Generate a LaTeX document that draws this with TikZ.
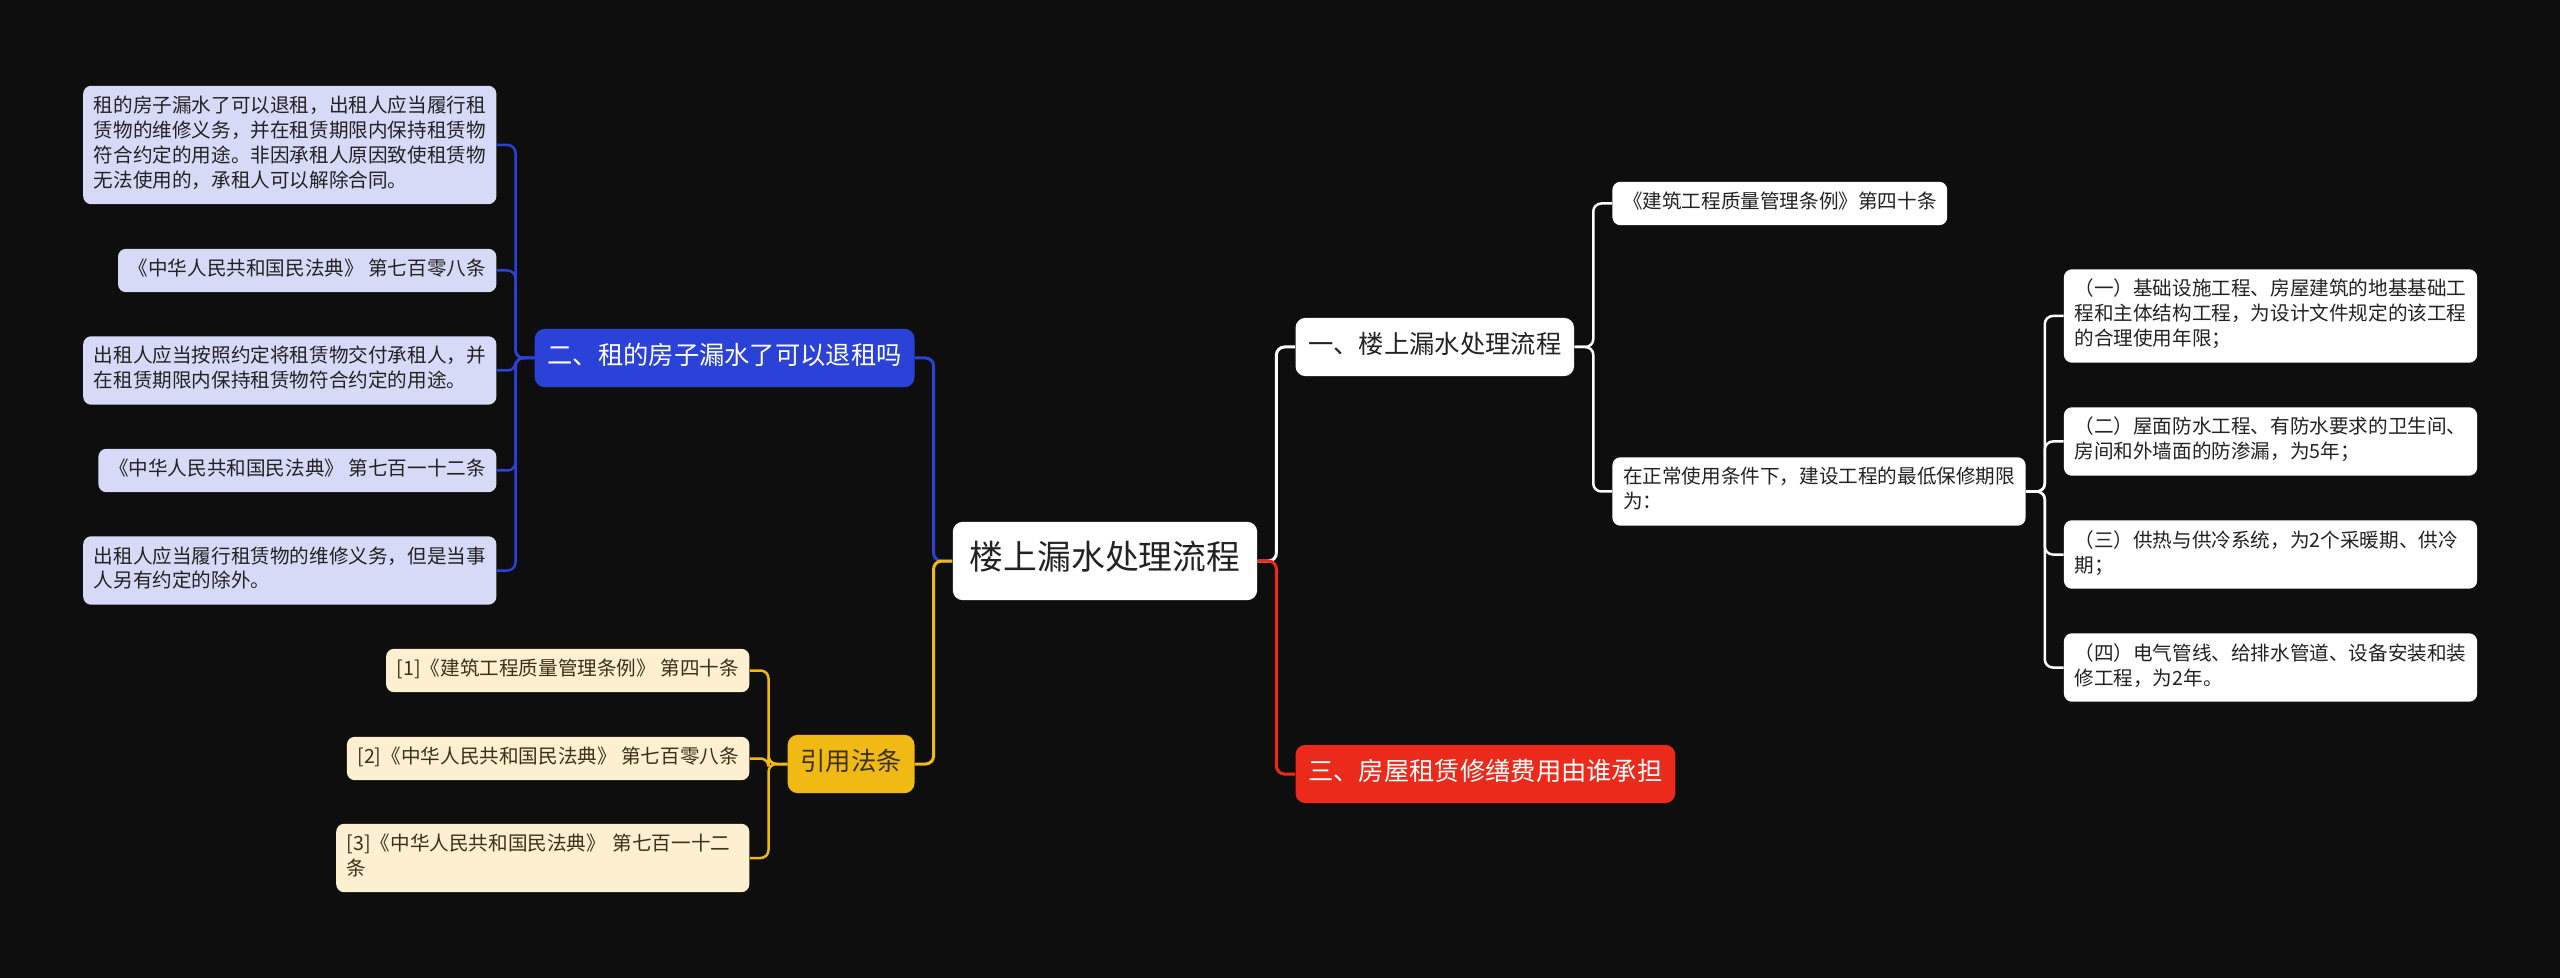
\documentclass[tikz,border=0pt]{standalone}
\usepackage{fontspec}
\setmainfont{Noto Sans CJK SC}
\usepackage{xcolor}
\usepackage{tikz}
\usetikzlibrary{positioning}
\definecolor{mapbg}{HTML}{0E0E0E}
\definecolor{mapblue}{HTML}{2A42D8}
\definecolor{mapbluelight}{HTML}{D6DAF6}
\definecolor{mapyellow}{HTML}{F0B914}
\definecolor{mapyellowlight}{HTML}{FDF0D0}
\definecolor{mapred}{HTML}{EC2A1C}
\definecolor{maptext}{HTML}{222222}
\definecolor{mapbrown}{HTML}{3A3118}
\tikzset{
    mapnode/.style={rounded corners=4pt, align=left,
        execute at begin node=\strut, execute at end node=\strut},
    rootbox/.style={mapnode, fill=white, text=maptext, rounded corners=5pt,
        inner xsep=8.5pt, inner ysep=9.5pt, font=\fontsize{16.9pt}{20pt}\selectfont},
    branchbox/.style={mapnode, rounded corners=5pt, inner xsep=6.4pt, inner ysep=7pt,
        font=\fontsize{12.65pt}{15pt}\selectfont},
    leafbox/.style={mapnode, inner xsep=5.3pt, inner ysep=4.6pt,
        font=\fontsize{9.8pt}{12.5pt}\selectfont, text=maptext},
    widebox/.style={leafbox, text width=196pt},
    bluebox/.style={fill=mapbluelight, text=maptext},
    yellowbox/.style={fill=mapyellowlight, text=mapbrown},
    whitebox/.style={fill=white, text=maptext},
    mainline/.style={line width=1.5pt, rounded corners=4pt},
    leafline/.style={line width=1.25pt, rounded corners=4pt}
}

\begin{document}
\begin{tikzpicture}[x=0.5pt, y=-0.5pt, node distance=18.75pt]
    \fill[mapbg] (0,0) rectangle (2560,978);

    \node[rootbox] (root) at (1105,561) {楼上漏水处理流程};

    \node[branchbox, fill=mapblue, text=white, left=of root, yshift=101.5pt] (rent) {二、租的房子漏水了可以退租吗};
    \node[branchbox, fill=mapyellow, text=mapbrown, left=of root, yshift=-101.5pt] (cite) {引用法条};
    \node[branchbox, fill=white, text=maptext, right=of root, yshift=107pt] (flow) {一、楼上漏水处理流程};
    \node[branchbox, fill=mapred, text=white, right=of root, yshift=-106.5pt] (cost) {三、房屋租赁修缮费用由谁承担};

    \node[widebox, bluebox, left=of rent, yshift=106.5pt] (rentA) {租的房子漏水了可以退租，出租人应当履行租\\赁物的维修义务，并在租赁期限内保持租赁物\\符合约定的用途。非因承租人原因致使租赁物\\无法使用的，承租人可以解除合同。};
    \node[leafbox, bluebox, left=of rent, yshift=43.75pt] (rentB) {《中华人民共和国民法典》 第七百零八条};
    \node[widebox, bluebox, left=of rent, yshift=-6.25pt] (rentC) {出租人应当按照约定将租赁物交付承租人，并\\在租赁期限内保持租赁物符合约定的用途。};
    \node[leafbox, bluebox, left=of rent, yshift=-56.25pt] (rentD) {《中华人民共和国民法典》 第七百一十二条};
    \node[widebox, bluebox, left=of rent, yshift=-106.25pt] (rentE) {出租人应当履行租赁物的维修义务，但是当事\\人另有约定的除外。};

    \node[leafbox, yellowbox, left=of cite, yshift=46.75pt] (citeA) {[1]《建筑工程质量管理条例》 第四十条};
    \node[leafbox, yellowbox, left=of cite, yshift=2.75pt] (citeB) {[2]《中华人民共和国民法典》 第七百零八条};
    \node[widebox, yellowbox, left=of cite, yshift=-47pt] (citeC) {[3]《中华人民共和国民法典》 第七百一十二\\条};

    \node[leafbox, whitebox, right=of flow, yshift=71.75pt] (rule) {《建筑工程质量管理条例》第四十条};
    \node[widebox, whitebox, right=of flow, yshift=-72.25pt] (term) {在正常使用条件下，建设工程的最低保修期限\\为：};

    \node[widebox, whitebox, right=of term, yshift=87.75pt] (termA) {（一）基础设施工程、房屋建筑的地基基础工\\程和主体结构工程，为设计文件规定的该工程\\的合理使用年限；};
    \node[widebox, whitebox, right=of term, yshift=25pt] (termB) {（二）屋面防水工程、有防水要求的卫生间、\\房间和外墙面的防渗漏，为5年；};
    \node[widebox, whitebox, right=of term, yshift=-31.5pt] (termC) {（三）供热与供冷系统，为2个采暖期、供冷\\期；};
    \node[widebox, whitebox, right=of term, yshift=-88pt] (termD) {（四）电气管线、给排水管道、设备安装和装\\修工程，为2年。};

    \draw[mainline, mapblue] (root.west) -- ++(-9.4pt,0) |- (rent.east);
    \draw[mainline, mapyellow] (root.west) -- ++(-9.4pt,0) |- (cite.east);
    \draw[mainline, white] (root.east) -- ++(9.4pt,0) |- (flow.west);
    \draw[mainline, mapred] (root.east) -- ++(9.4pt,0) |- (cost.west);

    \draw[leafline, mapblue] (rent.west) -- ++(-9.4pt,0) |- (rentA.east);
    \draw[leafline, mapblue] (rent.west) -- ++(-9.4pt,0) |- (rentB.east);
    \draw[leafline, mapblue] (rent.west) -- ++(-9.4pt,0) |- (rentC.east);
    \draw[leafline, mapblue] (rent.west) -- ++(-9.4pt,0) |- (rentD.east);
    \draw[leafline, mapblue] (rent.west) -- ++(-9.4pt,0) |- (rentE.east);

    \draw[leafline, mapyellow] (cite.west) -- ++(-9.4pt,0) |- (citeA.east);
    \draw[leafline, mapyellow] (cite.west) -- ++(-9.4pt,0) |- (citeB.east);
    \draw[leafline, mapyellow] (cite.west) -- ++(-9.4pt,0) |- (citeC.east);

    \draw[leafline, white] (flow.east) -- ++(9.4pt,0) |- (rule.west);
    \draw[leafline, white] (flow.east) -- ++(9.4pt,0) |- (term.west);

    \draw[leafline, white] (term.east) -- ++(9.4pt,0) |- (termA.west);
    \draw[leafline, white] (term.east) -- ++(9.4pt,0) |- (termB.west);
    \draw[leafline, white] (term.east) -- ++(9.4pt,0) |- (termC.west);
    \draw[leafline, white] (term.east) -- ++(9.4pt,0) |- (termD.west);
\end{tikzpicture}
\end{document}
